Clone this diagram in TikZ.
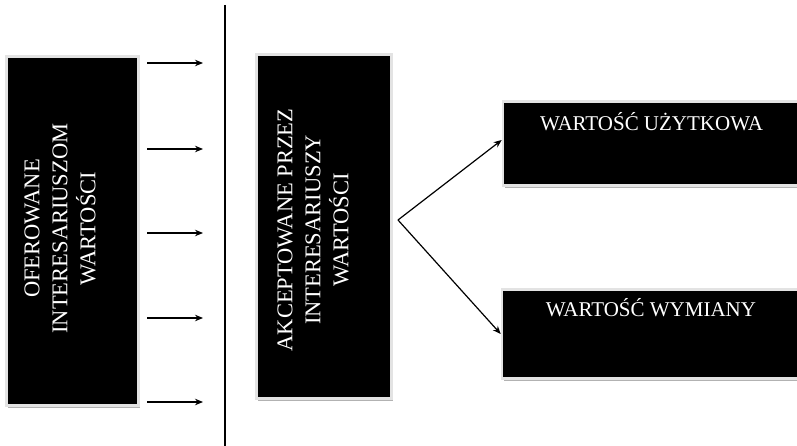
\documentclass[tikz,border=0pt]{standalone}
\usepackage{fontspec}
\setmainfont{Liberation Serif}
\usetikzlibrary{arrows.meta,shadows}
\begin{document}
\begin{tikzpicture}[x=1pt,y=1pt,
  blackbox/.style={draw=gray!22, line width=2.6pt, fill=black, inner sep=0pt,
    drop shadow={shadow xshift=1.5pt, shadow yshift=-2.5pt, fill=gray!60, opacity=1}},
  boxtext/.style={text=white, font=\fontsize{21}{28}\selectfont, align=center, inner sep=0pt},
  vtext/.style={boxtext, rotate=90, font=\fontsize{22.5}{28}\selectfont},
  arr/.style={line width=1.2pt, -{Stealth[length=8pt,width=6.5pt]}},
  line/.style={line width=1.1pt}]
\useasboundingbox (0,0) rectangle (797,446);
% boxes
\node[blackbox, minimum width=132.5pt, minimum height=349.5pt] (left) at (72.5,215) {};
\node[blackbox, minimum width=135.5pt, minimum height=344.5pt] (mid) at (324,219.5) {};
\node[blackbox, minimum width=297pt, minimum height=84.5pt] (tr) at (651.5,302.5) {};
\node[blackbox, minimum width=297pt, minimum height=89.5pt] (br) at (650.5,112) {};
% texts
\node[vtext] (lefttext) at (60,217.5) {OFEROWANE\\INTERESARIUSZOM\\WARTOŚCI};
\node[vtext] (midtext) at (313,216) {AKCEPTOWANE PRZEZ\\INTERESARIUSZY\\WARTOŚCI};
\node[boxtext] (trtext) at (651.5,324) {WARTOŚĆ UŻYTKOWA};
\node[boxtext] (brtext) at (651,138) {WARTOŚĆ WYMIANY};
% vertical separator
\coordinate (vtop) at (225,441);
\coordinate (vbot) at (225,0);
\draw[line] (vtop) -- (vbot);
% left arrows
\foreach \i/\y in {1/383,2/297,3/213,4/128,5/44} {
  \coordinate (s\i) at (147,\y);
  \coordinate (e\i) at (203,\y);
  \draw[arr] (s\i) -- (e\i);
}
% branch
\coordinate (apex) at (398,226);
\draw[arr] (apex) -- ([yshift=3.5pt]tr.west);
\draw[arr] (apex) -- (br.west);
\end{tikzpicture}
\end{document}
